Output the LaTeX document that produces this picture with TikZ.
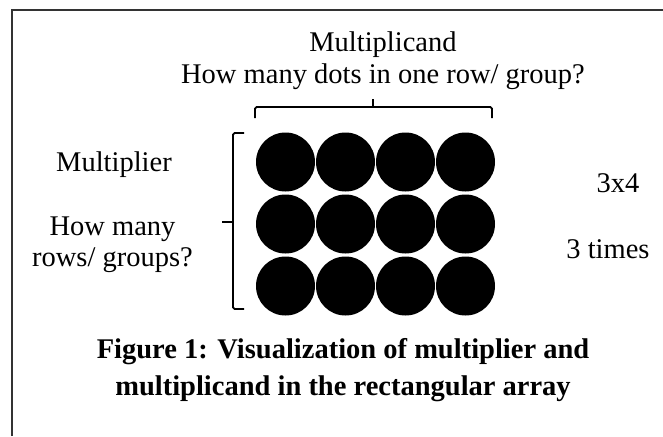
\documentclass[tikz,border=0pt]{standalone}
\usepackage{fontspec}
\setmainfont{Liberation Serif}
\usetikzlibrary{matrix}

\begin{document}
\begin{tikzpicture}[x=1pt,y=1pt,
  dot/.style={circle,fill=black,inner sep=0pt,minimum size=29.5pt},
  lbl/.style={font=\fontsize{14.25}{16}\selectfont,align=center,inner sep=0pt},
  figcaption/.style={font=\fontsize{14.25}{18.5}\selectfont\bfseries,align=center,inner sep=0pt},
  brace/.style={line width=0.9pt,rounded corners=0.8pt},
  frame/.style={line width=1pt,black!80}]
  \useasboundingbox (0,0) rectangle (331.5,218);
  \coordinate (f0) at (6,0);
  \coordinate (f1) at (6,213);
  \coordinate (f2) at (331.5,213);
  \draw[frame] (f0) -- (f1) -- (f2);
  \matrix (m) at (187.75,106) [matrix of nodes,nodes in empty cells,nodes={dot},
    row sep=1.5pt,column sep=0.5pt,inner sep=0pt]
  {
    & & & \\
    & & & \\
    & & & \\};
  \draw[brace] (127.5,159) -- (127.5,164.5) -- (246,164.5) -- (246,159);
  \draw[brace] (186.5,164.5) -- (186.5,168.5);
  \draw[brace] (122,151.5) -- (116.5,151.5) -- (116.5,63.5) -- (122,63.5);
  \draw[brace] (116.5,107) -- (111,107);
  \node[lbl] (cand) at (191.5,187.85) {Multiplicand\\How many dots in one row/ group?};
  \node[lbl,anchor=base] (mult) at (57,132.5) {Multiplier};
  \node[lbl,font=\fontsize{14.25}{15.5}\selectfont] (rows) at (56.25,95.4) {How many\\rows/ groups?};
  \node[lbl,anchor=base] (prod) at (309,122) {3x4};
  \node[lbl,anchor=base] (times) at (304,89) {3 times};
  \node[figcaption] (caption) at (171.5,33.05) {Figure 1: Visualization of multiplier and\\multiplicand in the rectangular array};
\end{tikzpicture}
\end{document}
